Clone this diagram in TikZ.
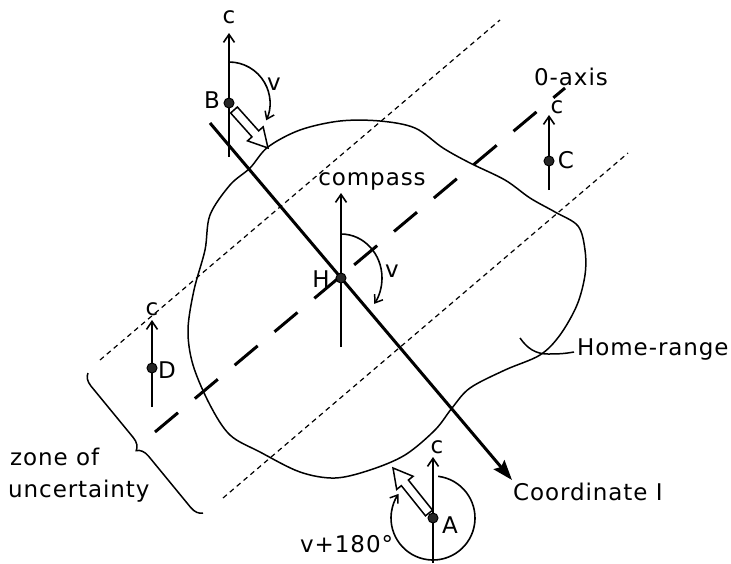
\documentclass[tikz,border=0pt]{standalone}
\usepackage{fontspec}
\setmainfont[LetterSpace=4]{DejaVu Sans}
\usetikzlibrary{arrows.meta,decorations.pathreplacing,calc}
\newcommand\hollowarrow[2]{%
  \path ($(#2)!19pt!(#1)$) coordinate (hb);
  \draw[hollow] ($(#1)!4.5pt!90:(#2)$) -- ($(hb)!4.5pt!-90:(#1)$) -- ($(hb)!10.5pt!-90:(#1)$) -- (#2)
     -- ($(hb)!10.5pt!90:(#1)$) -- ($(hb)!4.5pt!90:(#1)$) -- ($(#1)!4.5pt!-90:(#2)$) -- cycle;}
\begin{document}
\begin{tikzpicture}[x=1pt,y=-1pt,
  lab/.style={font=\fontsize{23}{28}\selectfont, inner sep=0pt, anchor=base},
  dot/.style={circle, draw=black, fill=black!85, line width=1pt, minimum size=10pt, inner sep=0pt},
  comp/.style={line width=1.8pt, -{Straight Barb[length=8pt,width=11pt,line width=1.6pt]}},
  varc/.style={line width=1.6pt, -{Straight Barb[length=7pt,width=10pt,line width=1.5pt]}},
  axis0/.style={line width=3pt, dash pattern=on 30pt off 22pt},
  zoneline/.style={line width=1.2pt, dash pattern=on 5pt off 4pt},
  coordline/.style={line width=3pt, -{Stealth[length=20pt,width=14pt,inset=3pt]}},
  hollow/.style={draw, line width=1.5pt, fill=white, line join=miter},
  thin/.style={line width=1.5pt}
]
\useasboundingbox (0,0) rectangle (731,563);

% positions of the points
\coordinate (pB) at (229,103);
\coordinate (pH) at (341,278);
\coordinate (pC) at (549,161);
\coordinate (pD) at (152,368);
\coordinate (pA) at (433,518);

% home range outline
\draw[thin] plot[smooth cycle, tension=0.55] coordinates {
 (268,147) (300,130) (340,121) (380,121) (415,128) (443,148) (470,163) (505,180)
 (530,198) (555,212) (578,226) (585,250) (585,275) (577,305) (560,335) (540,355)
 (505,370) (470,388) (452,408) (435,430) (405,455) (370,470) (335,478) (300,472)
 (260,452) (230,435) (210,405) (193,365) (188,330) (194,290) (205,250) (210,215)
 (230,185) (250,168)};

% zone of uncertainty boundaries
\coordinate (u0) at (100,360); \coordinate (u1) at (500,20);
\coordinate (l0) at (223,498); \coordinate (l1) at (628,153);
\draw[zoneline] (u0) -- (u1);
\draw[zoneline] (l0) -- (l1);

% 0-axis
\coordinate (z0) at (155,432); \coordinate (z1) at (565,88);
\draw[axis0] (z0) -- (z1);
\node[lab] (axl) at (571,85) {0-axis};

% coordinate I
\coordinate (cs) at (210,123); \coordinate (ct) at (512,480);
\draw[coordline] (cs) -- (ct);
\node[lab, anchor=base west] (cil) at (513,500) {Coordinate I};

% compass arrows
\coordinate (Bbot) at (229,157); \coordinate (Btop) at (229,33);
\draw[comp] (Bbot) -- (Btop);
\node[lab] (cB) at (229,23) {c};
\coordinate (Hbot) at (341,347); \coordinate (Htop) at (341,193);
\draw[comp] (Hbot) -- (Htop);
\node[lab] (cH) at (372,185) {compass};
\coordinate (Cbot) at (549,190); \coordinate (Ctop) at (549,115);
\draw[comp] (Cbot) -- (Ctop);
\node[lab] (cC) at (557,113) {c};
\coordinate (Dbot) at (152,407); \coordinate (Dtop) at (152,320);
\draw[comp] (Dbot) -- (Dtop);
\node[lab] (cD) at (152,315) {c};
\coordinate (Abot) at (433,563); \coordinate (Atop) at (433,457);
\draw[comp] (Abot) -- (Atop);
\node[lab] (cA) at (437,453) {c};

% angle arcs
\draw[varc] ($(pB)+(90:41pt)$) arc[start angle=90, end angle=-25, radius=41pt];
\node[lab] (vB) at (274,90) {v};
\draw[varc] ($(pH)+(90:44pt)$) arc[start angle=90, end angle=-36, x radius=41pt, y radius=44pt];
\node[lab] (vH) at (392,277) {v};
\draw[varc] ($(pA)+(83:42pt)$) arc[start angle=83, end angle=-215, radius=42pt];
\node[lab, anchor=base west] (vA) at (300,552) {v+180°};

% hollow direction arrows
\coordinate (bS) at (234,110); \coordinate (bT) at (268,148);
\hollowarrow{bS}{bT}
\coordinate (aS) at (429,513); \coordinate (aT) at (393,468);
\hollowarrow{aS}{aT}

% point dots and labels
\node[dot] (B) at (pB) {};
\node[dot] (H) at (pH) {};
\node[dot] (C) at (pC) {};
\node[dot] (D) at (pD) {};
\node[dot] (A) at (pA) {};
\node[lab] (Bl) at (212,108) {B};
\node[lab] (Hl) at (321,287) {H};
\node[lab] (Cl) at (566,168) {C};
\node[lab] (Dl) at (167,378) {D};
\node[lab] (Al) at (450,533) {A};

% home-range label
\node[lab, anchor=base west] (hrl) at (577,355) {Home-range};
\coordinate (hr0) at (520,338);
\draw[thin] (hr0) to[out=-55,in=180] (548,354) to[out=0,in=190] ($(hrl.base west)+(-3,-3)$);

% zone of uncertainty
\coordinate (br0) at (88,373); \coordinate (br1) at (203,513);
\draw[thin, decorate, decoration={brace, amplitude=12pt}] (br1) -- (br0);
\node[lab, anchor=base west] (zl1) at (10,465) {zone of};
\node[lab, anchor=base west] (zl2) at (8,497) {uncertainty};
\end{tikzpicture}
\end{document}
